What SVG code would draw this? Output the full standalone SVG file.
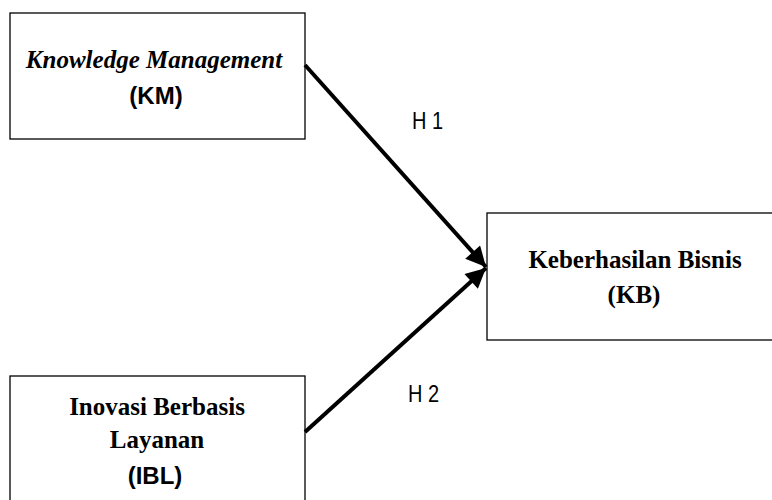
<svg xmlns="http://www.w3.org/2000/svg" width="772" height="500" viewBox="0 0 772 500">
<defs>
<style>
.box{fill:#fff;stroke:#000;stroke-width:1.3}
.serif{font-family:"Liberation Serif",serif;font-weight:bold;font-size:25px;text-anchor:middle}
.sans{font-family:"Liberation Sans",Arial,sans-serif;font-weight:bold;font-size:24px;text-anchor:middle}
.lab{font-family:"Liberation Sans",Arial,sans-serif;font-size:20px}
.conn{stroke:#000;stroke-width:4;fill:none}
</style>
<marker id="ah" viewBox="0 0 10 10" refX="10" refY="5" markerWidth="6" markerHeight="5" markerUnits="strokeWidth" orient="auto">
<path d="M0,0 L10,5 L0,10 Z" fill="#000"/>
</marker>
</defs>
<rect width="772" height="500" fill="#fff"/>
<g id="km">
<rect class="box" x="10" y="13" width="295" height="126"/>
<text class="serif" x="154" y="68" font-style="italic">Knowledge Management</text>
<text class="sans" x="156" y="104">(KM)</text>
</g>
<g id="kb">
<rect class="box" x="487" y="213" width="300" height="127"/>
<text class="serif" x="635" y="268">Keberhasilan Bisnis</text>
<text class="serif" x="634" y="303">(KB)</text>
</g>
<g id="ibl">
<rect class="box" x="10" y="376" width="295" height="140"/>
<text class="serif" x="157" y="415">Inovasi Berbasis</text>
<text class="serif" x="157" y="448">Layanan</text>
<text class="sans" x="155" y="484">(IBL)</text>
</g>
<g id="connectors">
<line class="conn" x1="305" y1="65" x2="486" y2="267" marker-end="url(#ah)"/>
<line class="conn" x1="305" y1="432" x2="486" y2="268" marker-end="url(#ah)"/>
<text class="lab" transform="translate(412,129) scale(1,1.2)">H 1</text>
<text class="lab" transform="translate(408,402) scale(1,1.2)">H 2</text>
</g>
</svg>
